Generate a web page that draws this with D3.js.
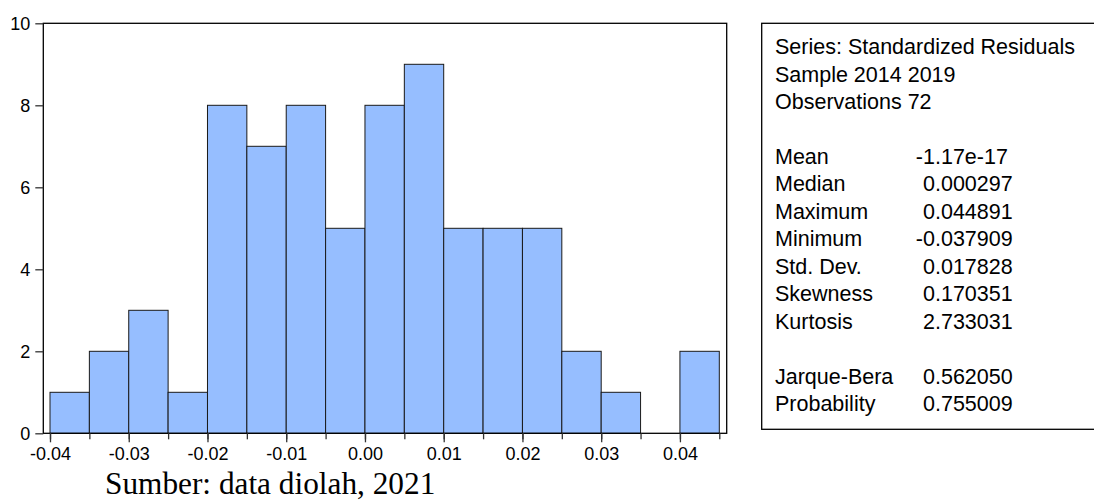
<!DOCTYPE html>
<html>
<head>
<meta charset="utf-8">
<script src="https://cdn.jsdelivr.net/npm/d3@7"></script>
<style>
  html, body { margin: 0; padding: 0; background: #fff; }
  svg { display: block; }
</style>
</head>
<body>
<svg id="chart" width="1094" height="500"></svg>
<script>
// ---- data ----
const binStarts = [-0.04, -0.035, -0.03, -0.025, -0.02, -0.015, -0.01, -0.005, 0.0, 0.005, 0.01, 0.015, 0.02, 0.025, 0.03, 0.035, 0.04];
const binWidth = 0.005;
const counts = [1, 2, 3, 1, 8, 7, 8, 5, 8, 9, 5, 5, 5, 2, 1, 0, 2];
const yTicks = [0, 2, 4, 6, 8, 10];
const xMajorTicks = [-0.04, -0.03, -0.02, -0.01, 0.0, 0.01, 0.02, 0.03, 0.04];
const xTickLabels = ["-0.04", "-0.03", "-0.02", "-0.01", "0.00", "0.01", "0.02", "0.03", "0.04"];
const headerLines = ["Series: Standardized Residuals", "Sample 2014 2019", "Observations 72"];
const statNames = ["Mean", "Median", "Maximum", "Minimum", "Std. Dev.", "Skewness", "Kurtosis"];
const statValues = ["-1.17e-17", "0.000297", "0.044891", "-0.037909", "0.017828", "0.170351", "2.733031"];
const testNames = ["Jarque-Bera", "Probability"];
const testValues = ["0.562050", "0.755009"];
const sourceNote = "Sumber: data diolah, 2021";

// ---- layout ----
const svg = d3.select("#chart");
const frame = { left: 43.3, top: 23.3, right: 726.7, bottom: 433.3 };
const x = d3.scaleLinear().domain([-0.04, 0.045]).range([50, 719.3]);
const y = d3.scaleLinear().domain([0, 10]).range([frame.bottom, frame.top]);
const sans = "Liberation Sans, Arial, Helvetica, sans-serif";

// bars
svg.append("g").selectAll("rect")
  .data(binStarts.map((s, i) => ({ s, c: counts[i] })).filter(d => d.c > 0))
  .join("rect")
  .attr("x", d => x(d.s))
  .attr("y", d => y(d.c))
  .attr("width", d => x(d.s + binWidth) - x(d.s))
  .attr("height", d => y(0) - y(d.c))
  .attr("fill", "#96BEFF")
  .attr("stroke", "#1a1a1a")
  .attr("stroke-width", 1);

// frame
svg.append("rect")
  .attr("x", frame.left).attr("y", frame.top)
  .attr("width", frame.right - frame.left)
  .attr("height", frame.bottom - frame.top)
  .attr("fill", "none").attr("stroke", "#000").attr("stroke-width", 1.3);

// y axis ticks
const yAxis = d3.axisLeft(y).tickValues(yTicks).tickSize(8).tickPadding(5).tickFormat(d3.format("d"));
const gy = svg.append("g").attr("transform", `translate(${frame.left},0)`).call(yAxis);
gy.select(".domain").remove();
gy.selectAll(".tick line").attr("stroke", "#333").attr("stroke-width", 1.3);
gy.selectAll(".tick text").attr("font-family", sans).attr("font-size", 18).attr("fill", "#000");

// x axis: minor ticks
const allTicks = binStarts.concat([0.045]);
const xMinor = d3.axisBottom(x).tickValues(allTicks).tickSize(6).tickFormat("");
const gxm = svg.append("g").attr("transform", `translate(0,${frame.bottom})`).call(xMinor);
gxm.select(".domain").remove();
gxm.selectAll(".tick line").attr("stroke", "#333").attr("stroke-width", 1.3);

// x axis: major ticks with labels
const xAxis = d3.axisBottom(x).tickValues(xMajorTicks).tickSize(9).tickPadding(5)
  .tickFormat((d, i) => xTickLabels[i]);
const gx = svg.append("g").attr("transform", `translate(0,${frame.bottom})`).call(xAxis);
gx.select(".domain").remove();
gx.selectAll(".tick line").attr("stroke", "#333").attr("stroke-width", 1.3);
gx.selectAll(".tick text").attr("font-family", sans).attr("font-size", 18).attr("fill", "#000");

// stats box
const box = { left: 761.7, top: 23.3, bottom: 429.3, right: 1100 };
svg.append("rect")
  .attr("x", box.left).attr("y", box.top)
  .attr("width", box.right - box.left).attr("height", box.bottom - box.top)
  .attr("fill", "none").attr("stroke", "#000").attr("stroke-width", 1.3);

const fs = 21.5;
const lineH = 27.5;
const labelX = 775;
const valueX = 923;
const minusW = fs * 0.333;
const g = svg.append("g").attr("font-family", sans).attr("font-size", fs).attr("fill", "#000");

headerLines.forEach((t, i) => {
  g.append("text").attr("x", labelX).attr("y", 54 + i * lineH).text(t);
});
const statTop = 163.5;
statNames.forEach((t, i) => {
  g.append("text").attr("x", labelX).attr("y", statTop + i * lineH).text(t);
  const v = statValues[i];
  g.append("text").attr("x", valueX - (v.startsWith("-") ? minusW : 0)).attr("y", statTop + i * lineH).text(v);
});
testNames.forEach((t, i) => {
  const yy = statTop + (statNames.length + 1 + i) * lineH;
  g.append("text").attr("x", labelX).attr("y", yy).text(t);
  g.append("text").attr("x", valueX).attr("y", yy).text(testValues[i]);
});

// source note
svg.append("text")
  .attr("x", 105).attr("y", 494)
  .attr("font-family", "Liberation Serif, 'Times New Roman', serif")
  .attr("font-size", 31.3)
  .attr("fill", "#000")
  .text(sourceNote);
</script>
</body>
</html>
